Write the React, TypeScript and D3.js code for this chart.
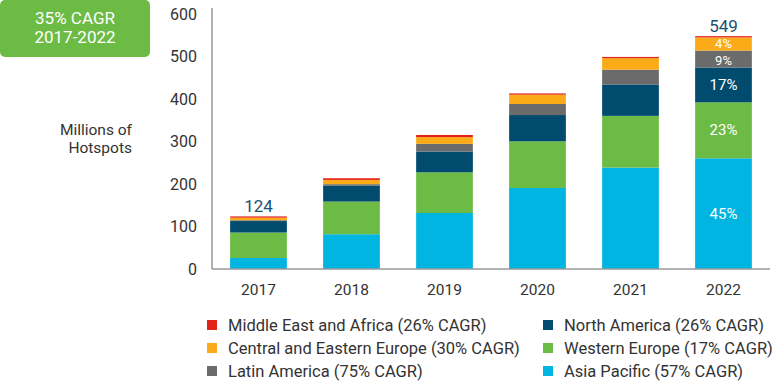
import React from "react";
import * as d3 from "d3";

const years = ["2017", "2018", "2019", "2020", "2021", "2022"];
const asiaPacific = [26, 82, 132, 191, 239, 261];
const westernEurope = [60, 77, 96, 110, 122, 132];
const northAmerica = [27, 38, 49, 62, 74, 82];
const latinAmerica = [2, 3, 18, 26, 35, 40];
const centralEasternEurope = [6, 10, 16, 22, 27, 31];
const middleEastAfrica = [3, 4, 5, 3, 3, 3];
const totals = ["124", "", "", "", "", "549"];
const yTicks = [0, 100, 200, 300, 400, 500, 600];
const pct2022 = ["45%", "23%", "17%", "9%", "4%", ""];

const seriesNames = [
  "Asia Pacific (57% CAGR)",
  "Western Europe (17% CAGR)",
  "North America (26% CAGR)",
  "Latin America (75% CAGR)",
  "Central and Eastern Europe (30% CAGR)",
  "Middle East and Africa (26% CAGR)",
];
const colors = ["#00b5e2", "#6cbb45", "#004b6e", "#6b6b6b", "#fbab18", "#e2231a"];

const FONT = "Roboto, 'Liberation Sans', Arial, sans-serif";

export default function App() {
  const W = 778, H = 382;
  const x = d3.scaleBand().domain(years).range([212, 770]).paddingInner(0.39).paddingOuter(0.195);
  const y = d3.scaleLinear().domain([0, 600]).range([269, 14.5]);

  const all = [asiaPacific, westernEurope, northAmerica, latinAmerica, centralEasternEurope, middleEastAfrica];
  const rows = years.map((yr, i) => {
    const o: any = { year: yr };
    all.forEach((s, k) => (o["s" + k] = s[i]));
    return o;
  });
  const keys = all.map((_, k) => "s" + k);
  const stacked = d3.stack().keys(keys)(rows);

  const legendOrder = [
    { k: 5, col: 0, row: 0 },
    { k: 4, col: 0, row: 1 },
    { k: 3, col: 0, row: 2 },
    { k: 2, col: 1, row: 0 },
    { k: 1, col: 1, row: 1 },
    { k: 0, col: 1, row: 2 },
  ];
  const legCols = [207, 543];
  const legRows = [325, 348, 371];

  return (
    <svg width={W} height={H} style={{ position: "absolute", left: 0, top: 0, background: "#fff" }} fontFamily={FONT}>
      <rect x={0} y={0} width={150} height={57} rx={5} fill="#6cbb45" />
      <text x={75} y={18} textAnchor="middle" dominantBaseline="central" fill="#fff" fontSize={17}>35% CAGR</text>
      <text x={75} y={37} textAnchor="middle" dominantBaseline="central" fill="#fff" fontSize={17}>2017-2022</text>

      <text x={132} y={130} textAnchor="end" dominantBaseline="central" fill="#333" fontSize={15.5}>Millions of</text>
      <text x={132} y={148} textAnchor="end" dominantBaseline="central" fill="#333" fontSize={15.5}>Hotspots</text>

      {yTicks.map((t) => (
        <text key={t} x={197} y={y(t)} textAnchor="end" dominantBaseline="central" fill="#333" fontSize={16}>{t}</text>
      ))}

      {stacked.map((layer, k) => (
        <g key={k} fill={colors[k]}>
          {layer.map((d, i) => (
            <rect key={i} x={x(years[i])} width={x.bandwidth()} y={y(d[1])} height={y(d[0]) - y(d[1])} />
          ))}
        </g>
      ))}

      {stacked.map((layer, k) => {
        const d = layer[5];
        if (!pct2022[k]) return null;
        const small = k >= 3;
        return (
          <text key={"p" + k} x={x("2022")! + x.bandwidth() / 2} y={(y(d[0]) + y(d[1])) / 2 + (k === 3 ? 1 : 0)}
            textAnchor="middle" dominantBaseline="central" fill="#fff" fontSize={small ? 13 : 15}>{pct2022[k]}</text>
        );
      })}

      {years.map((yr, i) => {
        if (!totals[i]) return null;
        const top = stacked[stacked.length - 1][i][1];
        return (
          <text key={"t" + i} x={x(yr)! + x.bandwidth() / 2} y={y(top) - 10} textAnchor="middle"
            dominantBaseline="central" fill="#1d4f73" fontSize={17}>{totals[i]}</text>
        );
      })}

      <line x1={212} x2={212} y1={8} y2={269} stroke="#999" strokeWidth={1.5} />
      <line x1={212} x2={770} y1={269} y2={269} stroke="#999" strokeWidth={1.5} />

      {years.map((yr) => (
        <text key={yr} x={x(yr)! + x.bandwidth() / 2} y={290} textAnchor="middle" dominantBaseline="central" fill="#333" fontSize={15.5}>{yr}</text>
      ))}

      {legendOrder.map(({ k, col, row }) => (
        <g key={"l" + k}>
          <rect x={legCols[col]} y={legRows[row] - 5} width={10} height={10} fill={colors[k]} />
          <text x={legCols[col] + 21} y={legRows[row]} dominantBaseline="central" fill="#333" fontSize={16.5}>{seriesNames[k]}</text>
        </g>
      ))}
    </svg>
  );
}
